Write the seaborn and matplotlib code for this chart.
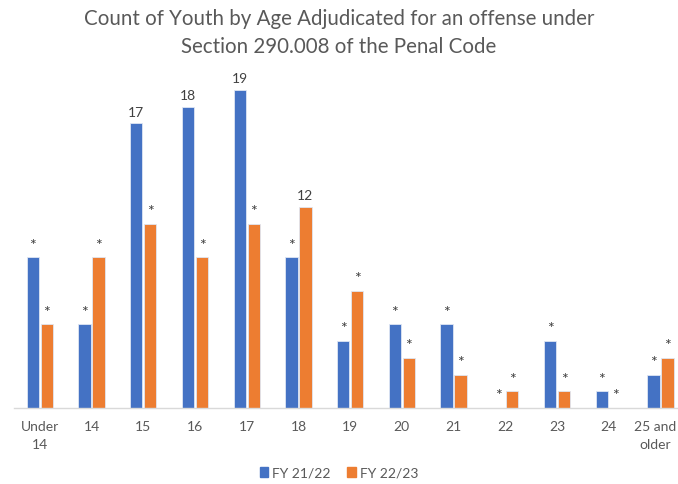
import matplotlib
matplotlib.use("Agg")
import matplotlib.pyplot as plt
import matplotlib.transforms as mtransforms
import pandas as pd
import seaborn as sns

# --- data ---
AGES = ["Under\n14", "14", "15", "16", "17", "18", "19", "20", "21", "22",
        "23", "24", "25 and\nolder"]
FY2122 = [9, 5, 17, 18, 19, 9, 4, 5, 5, 0, 4, 1, 2]
FY2223 = [5, 9, 11, 9, 11, 12, 7, 3, 2, 1, 1, 0, 3]
LABELS_2122 = ["*", "*", "17", "18", "19", "*", "*", "*", "*", "*", "*", "*", "*"]
LABELS_2223 = ["*", "*", "*", "*", "*", "12", "*", "*", "*", "*", "*", "*", "*"]
SERIES = ["FY 21/22", "FY 22/23"]

sns.set_theme(style="white")
plt.rcParams["font.family"] = ["Lato", "DejaVu Sans"]

df = pd.DataFrame({
    "age": AGES * 2,
    "count": FY2122 + FY2223,
    "year": [SERIES[0]] * len(AGES) + [SERIES[1]] * len(AGES),
})
palette = {SERIES[0]: "#4472C4", SERIES[1]: "#ED7D31"}

fig = plt.figure(figsize=(6.78, 4.85), dpi=100)
ax = fig.add_axes([14 / 678, 76 / 485, 664 / 678, 335 / 485])

sns.barplot(data=df, x="age", y="count", hue="year", order=AGES,
            hue_order=SERIES, palette=palette, width=0.54, gap=0.12,
            saturation=1, edgecolor="#dfe6f3", linewidth=0.6, ax=ax)

for cont, labs in zip(ax.containers, [LABELS_2122, LABELS_2223]):
    texts = ax.bar_label(cont, labels=labs, padding=4, fontsize=10,
                         color="#404040")
    for t in texts:
        if t.get_text() == "*":
            t.set_fontsize(11.5)

ax.set_xlim(-0.5, 12.34)
ax.set_ylim(0, 20)
ax.set_yticks([])
ax.set_xlabel("")
ax.set_ylabel("")
for s in ["top", "right", "left"]:
    ax.spines[s].set_visible(False)
ax.spines["bottom"].set_color("#d9d9d9")
ax.spines["bottom"].set_linewidth(1)
ax.tick_params(axis="x", length=0, pad=9, labelsize=10, labelcolor="#595959")
for t in ax.get_xticklabels():
    t.set_linespacing(1.6)
# last label sits at the right edge; nudge it in so it is not clipped
last = ax.get_xticklabels()[-1]
last.set_transform(last.get_transform() +
                   mtransforms.ScaledTranslation(-5 / 100, 0, fig.dpi_scale_trans))

ax.get_legend().remove()
handles = [plt.Rectangle((0, 0), 1, 1, color=palette[s]) for s in SERIES]
fig.legend(handles, SERIES, loc="center", bbox_to_anchor=(0.5, 11 / 485),
           ncol=2, frameon=False, fontsize=10, handlelength=0.6,
           handleheight=0.7, handletextpad=0.3, columnspacing=1.2,
           labelcolor="#595959")

fig.text(0.5, 0.982, "Count of Youth by Age Adjudicated for an offense under\n"
         "Section 290.008 of the Penal Code", ha="center", va="top",
         fontsize=14.8, color="#595959", linespacing=1.5)

fig.savefig("out.png", dpi=100)
